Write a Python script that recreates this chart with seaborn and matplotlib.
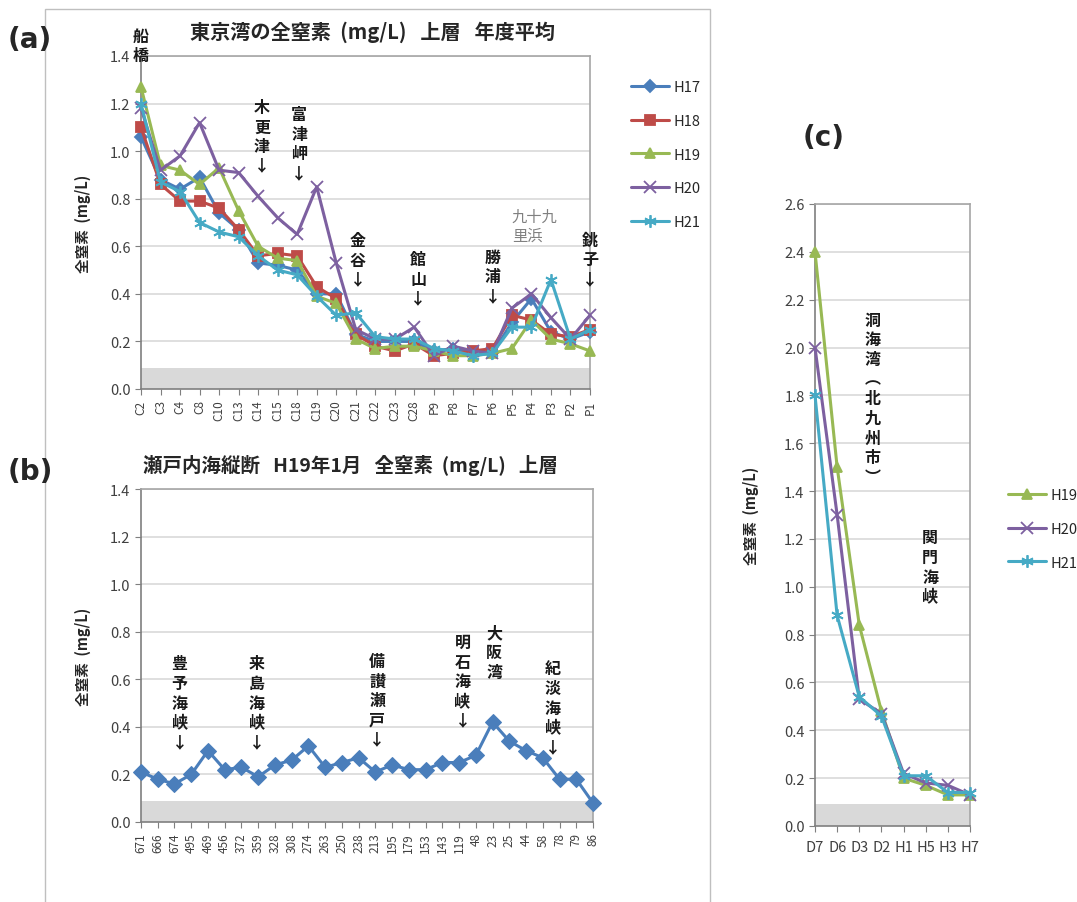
import matplotlib
matplotlib.use("Agg")
import matplotlib.pyplot as plt
import seaborn as sns
from matplotlib.patches import Rectangle

# ---- panel (a) Tokyo Bay, yearly mean ----
stations_a = ["C2", "C3", "C4", "C8", "C10", "C13", "C14", "C15", "C18", "C19", "C20", "C21",
              "C22", "C23", "C28", "P9", "P8", "P7", "P6", "P5", "P4", "P3", "P2", "P1"]
h17 = [1.06, 0.88, 0.84, 0.89, 0.74, 0.67, 0.53, 0.52, 0.50, 0.40, 0.40, 0.23,
       0.20, 0.20, 0.20, 0.16, 0.17, 0.15, 0.15, 0.28, 0.38, 0.24, 0.21, 0.24]
h18 = [1.10, 0.86, 0.79, 0.79, 0.76, 0.67, 0.56, 0.57, 0.56, 0.43, 0.38, 0.23,
       0.18, 0.16, 0.19, 0.14, 0.15, 0.16, 0.17, 0.31, 0.29, 0.23, 0.22, 0.25]
h19 = [1.27, 0.94, 0.92, 0.86, 0.93, 0.75, 0.60, 0.55, 0.54, 0.39, 0.36, 0.21,
       0.17, 0.18, 0.18, 0.16, 0.14, 0.14, 0.15, 0.17, 0.29, 0.21, 0.19, 0.16]
h20 = [1.18, 0.92, 0.98, 1.12, 0.92, 0.91, 0.81, 0.72, 0.65, 0.85, 0.53, 0.25,
       0.21, 0.21, 0.26, 0.14, 0.18, 0.16, 0.15, 0.34, 0.40, 0.30, 0.21, 0.31]
h21 = [1.20, 0.87, 0.83, 0.70, 0.66, 0.64, 0.56, 0.50, 0.48, 0.39, 0.31, 0.32,
       0.22, 0.21, 0.21, 0.17, 0.16, 0.14, 0.15, 0.26, 0.26, 0.46, 0.21, 0.25]

# ---- panel (b) Seto Inland Sea transect, Jan H19 ----
stations_b = ["671", "666", "674", "495", "469", "456", "372", "359", "328", "308", "274", "263",
              "250", "238", "213", "195", "179", "153", "143", "119", "48", "23", "25", "44",
              "58", "78", "79", "86"]
seto = [0.21, 0.18, 0.16, 0.20, 0.30, 0.22, 0.23, 0.19, 0.24, 0.26, 0.32, 0.23,
        0.25, 0.27, 0.21, 0.24, 0.22, 0.22, 0.25, 0.25, 0.28, 0.42, 0.34, 0.30,
        0.27, 0.18, 0.18, 0.08]

# ---- panel (c) Dokai Bay / Kanmon ----
stations_c = ["D7", "D6", "D3", "D2", "H1", "H5", "H3", "H7"]
c_h19 = [2.40, 1.50, 0.84, 0.48, 0.20, 0.17, 0.13, 0.13]
c_h20 = [2.00, 1.30, 0.53, 0.47, 0.22, 0.18, 0.17, 0.13]
c_h21 = [1.80, 0.88, 0.54, 0.46, 0.21, 0.21, 0.14, 0.14]

colors = {"H17": "#4a7ebb", "H18": "#be4b48", "H19": "#98b954",
          "H20": "#7d60a0", "H21": "#46aac5"}
markers = {"H17": "D", "H18": "s", "H19": "^", "H20": "x", "H21": (6, 2, 0)}
msizes = {"H17": 6, "H18": 7, "H19": 7.5, "H20": 8, "H21": 9}

sns.set_style("white")
plt.rcParams['font.family'] = ['Noto Sans CJK JP', 'DejaVu Sans']

fig = plt.figure(figsize=(10.77, 9.03), dpi=100)

W, H = 1077, 903
def pos(l, t, r, b):
    return [l / W, 1 - b / H, (r - l) / W, (b - t) / H]

ax_a = fig.add_axes(pos(141, 57, 590, 390))
ax_b = fig.add_axes(pos(141, 490, 593, 823))
ax_c = fig.add_axes(pos(815, 205, 970, 827))


def style_axes(ax, ymax, labels, rot, fs, pad):
    ax.axhspan(0, 0.09, color="#d9d9d9", lw=0, zorder=0)
    ax.set_ylim(0, ymax)
    ax.set_yticks([round(v * 0.2, 1) for v in range(int(round(ymax / 0.2)) + 1)])
    ax.yaxis.set_major_formatter(matplotlib.ticker.FormatStrFormatter("%.1f"))
    ax.set_xlim(0, len(labels) - 1)
    ax.set_xticks(range(len(labels)))
    ax.set_xticklabels(labels, rotation=rot, fontsize=fs)
    ax.grid(axis="y", color="#d9d9d9", lw=1.2)
    ax.set_axisbelow(True)
    for s in ["left", "bottom"]:
        ax.spines[s].set_color("#7f7f7f")
        ax.spines[s].set_linewidth(1.2)
    for s in ["top", "right"]:
        ax.spines[s].set_color("#a6a6a6")
        ax.spines[s].set_linewidth(1.2)
    ax.tick_params(axis="both", direction="out", length=4, color="#7f7f7f",
                   labelcolor="#404040", left=True, bottom=True)
    ax.tick_params(axis="y", labelsize=10.5)
    ax.set_ylabel("全窒素  (mg/L)", fontsize=10.5, fontweight="bold", color="#262626",
                  labelpad=pad)


def vtext(ax, x, y, s, arrow=True, fs=11.5, color="#1a1a1a"):
    txt = "\n".join(list(s)) + ("\n↓" if arrow else "")
    ax.text(x, y, txt, ha="center", va="top", fontsize=fs, linespacing=1.28,
            fontweight="bold", color=color, clip_on=False, zorder=5)


def draw(ax, xs, ys, name, lw=2.2):
    c = colors[name]
    sns.lineplot(x=xs, y=ys, ax=ax, color=c, lw=lw, marker=markers[name],
                 markersize=msizes[name], markeredgecolor=c, markerfacecolor=c,
                 markeredgewidth=1.3, label=name, sort=False, zorder=3, clip_on=False)


# panel (a)
xa = list(range(len(stations_a)))
for name, vals in zip(["H17", "H18", "H19", "H20", "H21"], [h17, h18, h19, h20, h21]):
    draw(ax_a, xa, vals, name)
style_axes(ax_a, 1.4, stations_a, 90, 8.5, 14)
ax_a.legend(loc="upper left", bbox_to_anchor=(618 / W, 1 - 68 / H), bbox_transform=fig.transFigure,
            frameon=False, fontsize=10.5, labelspacing=1.35, handlelength=2.6, handletextpad=0.3)

vtext(ax_a, 0, 1.52, "船橋", arrow=False)
vtext(ax_a, 6.2, 1.22, "木更津")
vtext(ax_a, 8.1, 1.19, "富津岬")
vtext(ax_a, 11.1, 0.66, "金谷")
vtext(ax_a, 14.2, 0.58, "館山")
vtext(ax_a, 18.0, 0.59, "勝浦")
vtext(ax_a, 23.0, 0.66, "銚子")
ax_a.text(19.0, 0.76, "九十九\n里浜", ha="left", va="top", fontsize=11,
          color="#808080", linespacing=1.1, zorder=5)

# panel (b)
xb = list(range(len(stations_b)))
sns.lineplot(x=xb, y=seto, ax=ax_b, color="#4a7ebb", lw=2.2, marker="D", markersize=8,
             markeredgecolor="#4a7ebb", markerfacecolor="#4a7ebb", sort=False, zorder=3,
             clip_on=False)
style_axes(ax_b, 1.4, stations_b, 90, 8.5, 14)
vtext(ax_b, 2.3, 0.70, "豊予海峡")
vtext(ax_b, 6.9, 0.70, "来島海峡")
vtext(ax_b, 14.1, 0.71, "備讃瀬戸")
vtext(ax_b, 19.2, 0.79, "明石海峡")
vtext(ax_b, 21.1, 0.83, "大阪湾", arrow=False)
vtext(ax_b, 24.6, 0.68, "紀淡海峡")

# panel (c)
xc = list(range(len(stations_c)))
for name, vals in zip(["H19", "H20", "H21"], [c_h19, c_h20, c_h21]):
    draw(ax_c, xc, vals, name)
style_axes(ax_c, 2.6, stations_c, 0, 10.5, 18)
ax_c.tick_params(axis="x", pad=6)
ax_c.legend(loc="upper left", bbox_to_anchor=(995 / W, 1 - 476 / H), bbox_transform=fig.transFigure,
            frameon=False, fontsize=10.5, labelspacing=1.35, handlelength=2.6, handletextpad=0.3)
vtext(ax_c, 2.6, 2.15, "洞海湾︵北九州市︶", arrow=False)
vtext(ax_c, 5.2, 1.24, "関門海峡", arrow=False)

# titles and panel letters
fig.text(372 / W, 1 - 32 / H, "東京湾の全窒素  (mg/L)   上層   年度平均", ha="center", va="center",
         fontsize=14.5, fontweight="bold", color="#262626")
fig.text(350 / W, 1 - 465 / H, "瀬戸内海縦断   H19年1月   全窒素  (mg/L)   上層", ha="center",
         va="center", fontsize=14, fontweight="bold", color="#262626")
fig.text(8 / W, 1 - 40 / H, "(a)", fontsize=20, fontweight="bold", va="center", family="DejaVu Sans")
fig.text(8 / W, 1 - 472 / H, "(b)", fontsize=20, fontweight="bold", va="center", family="DejaVu Sans")
fig.text(803 / W, 1 - 138 / H, "(c)", fontsize=20, fontweight="bold", va="center", family="DejaVu Sans")

# outer frame around panels (a) and (b)
fig.add_artist(Rectangle((45 / W, -0.01), (710 - 45) / W, 1 - 10 / H + 0.01,
                         transform=fig.transFigure, fill=False, edgecolor="#bfbfbf", lw=1))

fig.savefig("out.png", dpi=100)
